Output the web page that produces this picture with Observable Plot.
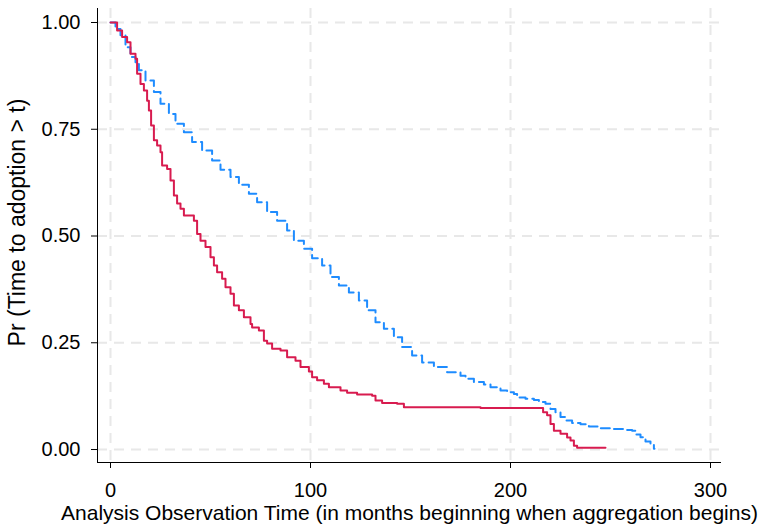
<!DOCTYPE html>
<html>
<head>
<meta charset="utf-8">
<script src="https://cdn.jsdelivr.net/npm/d3@7"></script>
<script src="https://cdn.jsdelivr.net/npm/@observablehq/plot@0.6"></script>
<style>
  html, body { margin: 0; padding: 0; background: #fff; }
  #chart svg { display: block; }
</style>
</head>
<body>
<div id="chart"></div>
<script>
// Kaplan-Meier step estimates
const redTime = [0, 3.3, 5.8, 8.3, 10, 12.5, 13.3, 15, 16.7, 18.3, 19.2, 20.3, 21.7, 23.3, 25, 25.8, 28.3, 30, 31.7, 33.3, 35, 36.7, 41.7, 43.3, 45, 47.5, 50, 51.7, 53.3, 55.8, 57.5, 60, 61.7, 64.2, 66.7, 70, 70.8, 74.2, 76.7, 78.3, 80.8, 85, 88.3, 92.5, 95, 99.2, 100.8, 103.3, 106.7, 109.2, 115, 118.3, 123.3, 130.8, 132.5, 135.8, 143.3, 146.7, 185, 216.3, 218.3, 220, 221.7, 225, 228.3, 230, 231.7, 233.3, 247.5];
const redSurv = [1, 0.981, 0.966, 0.954, 0.927, 0.915, 0.880, 0.856, 0.841, 0.817, 0.794, 0.759, 0.724, 0.712, 0.696, 0.665, 0.657, 0.630, 0.595, 0.576, 0.564, 0.548, 0.536, 0.505, 0.489, 0.474, 0.450, 0.431, 0.415, 0.400, 0.380, 0.365, 0.337, 0.326, 0.310, 0.294, 0.286, 0.279, 0.255, 0.248, 0.236, 0.232, 0.216, 0.208, 0.193, 0.183, 0.169, 0.162, 0.154, 0.146, 0.138, 0.133, 0.129, 0.126, 0.115, 0.109, 0.107, 0.099, 0.097, 0.087, 0.080, 0.060, 0.044, 0.037, 0.028, 0.021, 0.009, 0.004, 0.004];

const blueTime = [0, 2.5, 5, 7.5, 10, 12.5, 14.2, 17.5, 21.7, 25, 29.2, 32.5, 36.7, 40.8, 45.8, 50.8, 55, 60, 64.2, 69.2, 73.3, 78.3, 83.3, 88.3, 91.7, 96.7, 100.8, 105.8, 110, 114.2, 119.2, 124.2, 128.3, 132.5, 136.7, 141.7, 145.8, 150.8, 155.8, 161.7, 168.3, 175, 177.5, 181.7, 186.7, 190, 195, 198.3, 201.7, 203.3, 207.5, 211.7, 214.2, 217.5, 220, 222.5, 225, 227.5, 230.8, 235, 239.2, 245, 251.7, 256.7, 260.8, 262.5, 265, 267.5, 270, 271.7, 272];
const blueSurv = [1, 0.985, 0.970, 0.942, 0.919, 0.907, 0.888, 0.864, 0.837, 0.810, 0.786, 0.763, 0.743, 0.720, 0.700, 0.677, 0.655, 0.638, 0.620, 0.599, 0.579, 0.556, 0.536, 0.513, 0.489, 0.470, 0.448, 0.431, 0.404, 0.384, 0.368, 0.349, 0.326, 0.298, 0.283, 0.263, 0.240, 0.220, 0.204, 0.193, 0.181, 0.173, 0.166, 0.158, 0.152, 0.146, 0.138, 0.134, 0.130, 0.122, 0.119, 0.116, 0.111, 0.107, 0.095, 0.087, 0.076, 0.068, 0.062, 0.059, 0.054, 0.050, 0.048, 0.046, 0.044, 0.035, 0.029, 0.019, 0.012, 0.002, 0.002];

const xTicks = [0, 100, 200, 300];
const yTicks = [0, 0.25, 0.5, 0.75, 1];
const xDomain = [-6.5, 305.5];
const yDomain = [-0.0304, 1.0328];
const xTitle = "Analysis Observation Time (in months beginning when aggregation begins)";
const yTitle = "Pr (Time to adoption > t)";

const red = redTime.map((t, i) => ({t, s: redSurv[i]}));
const blue = blueTime.map((t, i) => ({t, s: blueSurv[i]}));

const gridStyle = {stroke: "#e8e8e8", strokeOpacity: 1, strokeWidth: 2, strokeDasharray: "10,7"};

const chart = Plot.plot({
  width: 758,
  height: 525,
  marginLeft: 97,
  marginRight: 37,
  marginTop: 8,
  marginBottom: 63,
  x: {domain: xDomain},
  y: {domain: yDomain},
  style: {fontFamily: "'Liberation Sans', Arial, sans-serif", fontSize: "20px", color: "#000", background: "#fff"},
  marks: [
    Plot.gridX(xTicks, gridStyle),
    Plot.gridY(yTicks, gridStyle),
    Plot.ruleX([xDomain[0]], {stroke: "#000", strokeWidth: 1}),
    Plot.ruleY([yDomain[0]], {stroke: "#000", strokeWidth: 1}),
    Plot.axisX(xTicks, {tickSize: 6, tickPadding: 14, fontSize: 20, label: null, tickFormat: d3.format("d")}),
    Plot.axisY(yTicks, {tickSize: 6, tickPadding: 11, fontSize: 20, label: null, tickFormat: d3.format(".2f")}),
    Plot.line(blue, {x: "t", y: "s", curve: "step-after", stroke: "#1e8cff", strokeWidth: 2, strokeDasharray: "9,5"}),
    Plot.line(red, {x: "t", y: "s", curve: "step-after", stroke: "#d81b4f", strokeWidth: 2}),
    Plot.text([xTitle], {frameAnchor: "bottom", dy: 51, lineAnchor: "middle", textAnchor: "middle", fontSize: 21, fill: "#000"}),
    Plot.text([yTitle], {frameAnchor: "left", dx: -80, dy: -13, rotate: -90, lineAnchor: "middle", textAnchor: "middle", fontSize: 23, fill: "#000"})
  ]
});
document.getElementById("chart").appendChild(chart);
</script>
</body>
</html>
